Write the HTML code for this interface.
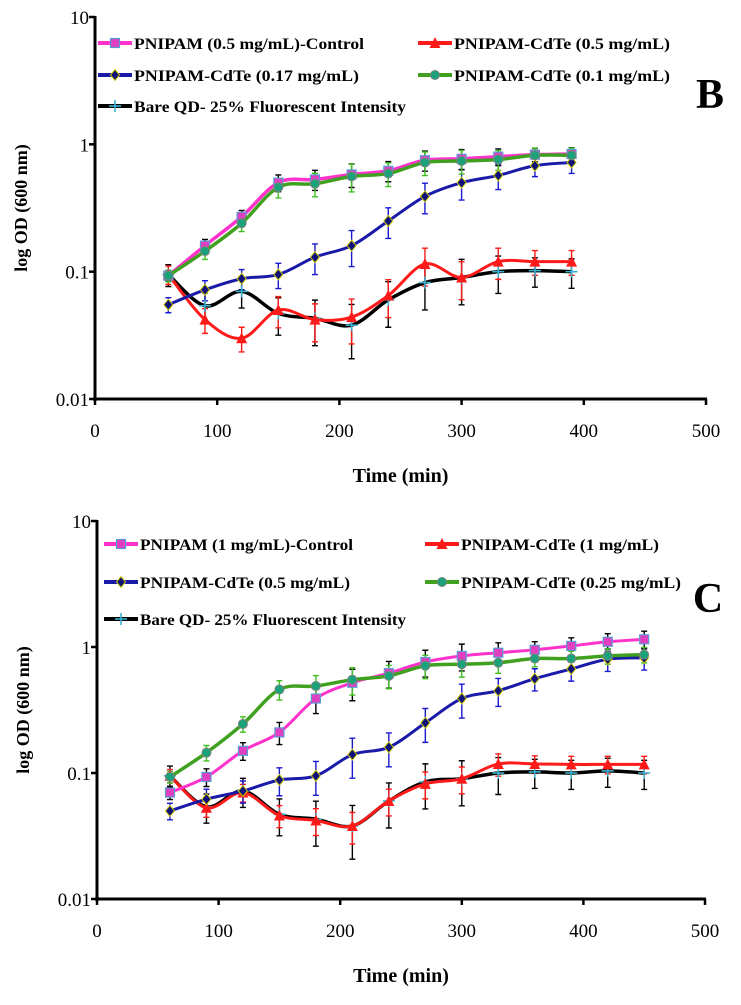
<!DOCTYPE html>
<html><head><meta charset="utf-8"><style>
body{margin:0;background:#fff;width:741px;height:1000px;overflow:hidden}
svg text{font-family:"Liberation Serif",serif}
</style></head><body>
<svg id="s" width="741" height="1000" xmlns="http://www.w3.org/2000/svg"></svg>
<script>
const timesB=[60,90,120,150,180,210,240,270,300,330,360,390];
const pinkB=[0.093,0.16,0.27,0.5,0.53,0.58,0.62,0.75,0.77,0.8,0.83,0.84];
const greenB=[0.093,0.145,0.24,0.46,0.49,0.56,0.59,0.72,0.74,0.76,0.82,0.82];
const blueB=[0.055,0.072,0.088,0.095,0.13,0.16,0.25,0.39,0.5,0.57,0.68,0.72];
const redB=[0.095,0.042,0.03,0.05,0.042,0.044,0.065,0.115,0.09,0.12,0.12,0.12];
const blackB=[0.095,0.054,0.07,0.047,0.043,0.038,0.06,0.082,0.09,0.1,0.102,0.1];
const timesC=[60,90,120,150,180,210,240,270,300,330,360,390,420,450];
const pinkC=[0.07,0.093,0.15,0.21,0.39,0.52,0.62,0.76,0.85,0.9,0.95,1.02,1.1,1.15];
const greenC=[0.093,0.145,0.245,0.46,0.49,0.55,0.59,0.71,0.73,0.75,0.81,0.81,0.85,0.87];
const blueC=[0.05,0.062,0.072,0.088,0.095,0.14,0.16,0.25,0.39,0.45,0.56,0.67,0.8,0.82];
const redC=[0.095,0.053,0.07,0.046,0.042,0.038,0.06,0.082,0.09,0.118,0.118,0.117,0.117,0.117];
const blackC=[0.095,0.054,0.072,0.047,0.043,0.038,0.06,0.085,0.09,0.1,0.102,0.1,0.104,0.1];
const errRel=[0.15,0.2,0.2,0.25,0.3,0.35,0.3,0.3,0.3,0.25,0.2,0.2,0.2,0.2];
const xTicks=[0,100,200,300,400,500];
const yTicks=[0.01,0.1,1,10];
const yTickLabels=["0.01","0.1","1","10"];
const NS="http://www.w3.org/2000/svg";
const svg=document.getElementById('s');
function mk(tag,attrs,parent){const e=document.createElementNS(NS,tag);for(const k in attrs)e.setAttribute(k,attrs[k]);(parent||svg).appendChild(e);return e;}
function smooth(pts){let d=`M${pts[0][0]},${pts[0][1]}`;for(let i=0;i<pts.length-1;i++){const p0=pts[Math.max(i-1,0)],p1=pts[i],p2=pts[i+1],p3=pts[Math.min(i+2,pts.length-1)];const c1=[p1[0]+(p2[0]-p0[0])/6,p1[1]+(p2[1]-p0[1])/6],c2=[p2[0]-(p3[0]-p1[0])/6,p2[1]-(p3[1]-p1[1])/6];d+=`C${c1[0]},${c1[1]} ${c2[0]},${c2[1]} ${p2[0]},${p2[1]}`;}return d;}
function marker(g,type,x,y,fill){
 if(type==='sq')return mk('rect',{x:x-4.5,y:y-4.5,width:9,height:9,fill:fill,stroke:'#5b9bd5','stroke-width':1.2},g);
 if(type==='tri'){const xl=x-5.5,xr=x+5.5,yt=y-6,yb=y+5;return mk('polygon',{points:xl+','+yb+' '+x+','+yt+' '+xr+','+yb,fill:fill},g);}
 if(type==='dia')return mk('polygon',{points:`${x},${y-5.5} ${x+4.5},${y} ${x},${y+5.5} ${x-4.5},${y}`,fill:fill,stroke:'#c8c800','stroke-width':1},g);
 if(type==='circ')return mk('circle',{cx:x,cy:y,r:4.5,fill:'#1aa37a',stroke:'#808080','stroke-width':1},g);
 if(type==='plus'){mk('line',{x1:x-6,y1:y,x2:x+6,y2:y,stroke:'#3ab0d0','stroke-width':1.6},g);return mk('line',{x1:x,y1:y-6,x2:x,y2:y+6,stroke:'#3ab0d0','stroke-width':1.6},g);}
}
function chart(cfg){
 const g=mk('g',{});
 const X=v=>cfg.x0+(v/500)*(cfg.x1-cfg.x0);
 const Y=v=>cfg.y0+(Math.log10(v)+2)/3*(cfg.y1-cfg.y0);
 const ax=mk('g',{},g);
 mk('line',{x1:X(0),y1:Y(10)-1,x2:X(0),y2:Y(0.01)+2,stroke:'#000','stroke-width':3},ax);
 mk('line',{x1:X(0)-2,y1:Y(0.01),x2:X(500)+1,y2:Y(0.01),stroke:'#000','stroke-width':3},ax);
 yTicks.forEach((t,i)=>{mk('line',{x1:X(0)-6,y1:Y(t),x2:X(0),y2:Y(t),stroke:'#000','stroke-width':2.5},ax);
  const tx=mk('text',{x:X(0)-6,y:Y(t)+7,'text-anchor':'end','font-size':19},ax);tx.textContent=yTickLabels[i];});
 xTicks.forEach(t=>{mk('line',{x1:X(t),y1:Y(0.01),x2:X(t),y2:Y(0.01)+6,stroke:'#000','stroke-width':2.5},ax);
  const tx=mk('text',{x:X(t),y:Y(0.01)+38,'text-anchor':'middle','font-size':19},ax);tx.textContent=t;});
 const yt=mk('text',{x:0,y:0,'font-size':18,'font-weight':'bold','text-anchor':'middle',transform:`translate(${cfg.x0-68},${(cfg.y0+cfg.y1)/2}) rotate(-90)`},g);yt.textContent='log OD (600 nm)';
 const xt=mk('text',{x:(X(0)+X(500))/2,y:Y(0.01)+83,'font-size':20,'font-weight':'bold','text-anchor':'middle'},g);xt.textContent='Time (min)';
 const pl=mk('text',{x:cfg.letterX,y:cfg.letterY,'font-size':42,'font-weight':'bold','text-anchor':'middle'},g);pl.textContent=cfg.letter;
 cfg.series.forEach(s=>{
  const sg=mk('g',{},g);
  s.vals.forEach((v,i)=>{const e=v*errRel[i]*s.ef;const x=X(cfg.times[i]);
   const b=mk('path',{d:`M${x},${Y(v+e)}V${Y(Math.max(v-e,0.011))}M${x-3},${Y(v+e)}h6M${x-3},${Y(Math.max(v-e,0.011))}h6`,stroke:s.ecol,'stroke-width':1.4,fill:'none'},sg);
   });
 });
 cfg.series.forEach(s=>{
  const sg=mk('g',{},g);
  const pts=s.vals.map((v,i)=>[X(cfg.times[i]),Y(v)]);
  const p=mk('path',{d:smooth(pts),stroke:s.col,'stroke-width':s.w,fill:'none'},sg);
  pts.forEach(q=>{const m=marker(sg,s.m,q[0],q[1],s.mf);});
 });
 cfg.legend.forEach(l=>{
  const s=cfg.series.find(z=>z.key===l.key);
  const lg=mk('g',{},g);
  mk('line',{x1:l.x,y1:l.y,x2:l.x+34,y2:l.y,stroke:s.col,'stroke-width':4},lg);
  marker(lg,s.m,l.x+17,l.y,s.mf);
  const t=mk('text',{x:l.x+36,y:l.y+6,'font-size':16,'font-weight':'bold',textLength:l.len,lengthAdjust:'spacingAndGlyphs'},lg);t.textContent=l.text;
 });
}
const seriesB=[
 {key:'black',vals:blackB,col:'#000',w:3.5,m:'plus',ecol:'#000',ef:1.3},
 {key:'red',vals:redB,col:'#ff1a1a',w:3,m:'tri',mf:'#ff1a1a',ecol:'#ff1a1a',ef:1.1},
 {key:'blue',vals:blueB,col:'#1a1aa8',w:3,m:'dia',mf:'#10107a',ecol:'#1a1ad0',ef:0.9},
 {key:'pink',vals:pinkB,col:'#ff33cc',w:3.5,m:'sq',mf:'#e040c0',ecol:'#000',ef:0.6},
 {key:'green',vals:greenB,col:'#40a020',w:3.5,m:'circ',ecol:'#40c020',ef:0.7}];
chart({name:'chart-b',x0:95,x1:706,y0:399,y1:17,times:timesB,series:seriesB,letter:'B',letterX:710,letterY:108,
 legend:[{key:'pink',x:98,y:43,len:230,text:'PNIPAM (0.5 mg/mL)-Control'},{key:'red',x:418,y:43,len:216,text:'PNIPAM-CdTe (0.5 mg/mL)'},
 {key:'blue',x:98,y:75,len:225,text:'PNIPAM-CdTe (0.17 mg/mL)'},{key:'green',x:418,y:75,len:216,text:'PNIPAM-CdTe (0.1 mg/mL)'},
 {key:'black',x:98,y:106,len:272,text:'Bare QD- 25% Fluorescent Intensity'}]});
const seriesC=[
 {key:'black',vals:blackC,col:'#000',w:3.5,m:'plus',ecol:'#000',ef:1.3},
 {key:'red',vals:redC,col:'#ff1a1a',w:3,m:'tri',mf:'#ff1a1a',ecol:'#ff1a1a',ef:0.8},
 {key:'blue',vals:blueC,col:'#1a1aa8',w:3,m:'dia',mf:'#10107a',ecol:'#1a1ad0',ef:1.0},
 {key:'pink',vals:pinkC,col:'#ff33cc',w:3,m:'sq',mf:'#e040c0',ecol:'#000',ef:0.8},
 {key:'green',vals:greenC,col:'#40a020',w:3.5,m:'circ',ecol:'#40c020',ef:0.7}];
chart({name:'chart-c',x0:97,x1:705,y0:899,y1:521,times:timesC,series:seriesC,letter:'C',letterX:708,letterY:612,
 legend:[{key:'pink',x:104,y:544,len:213,text:'PNIPAM (1 mg/mL)-Control'},{key:'red',x:425,y:544,len:198,text:'PNIPAM-CdTe (1 mg/mL)'},
 {key:'blue',x:104,y:582,len:210,text:'PNIPAM-CdTe (0.5 mg/mL)'},{key:'green',x:425,y:582,len:220,text:'PNIPAM-CdTe (0.25 mg/mL)'},
 {key:'black',x:104,y:619,len:266,text:'Bare QD- 25% Fluorescent Intensity'}]});
</script>
</body></html>
